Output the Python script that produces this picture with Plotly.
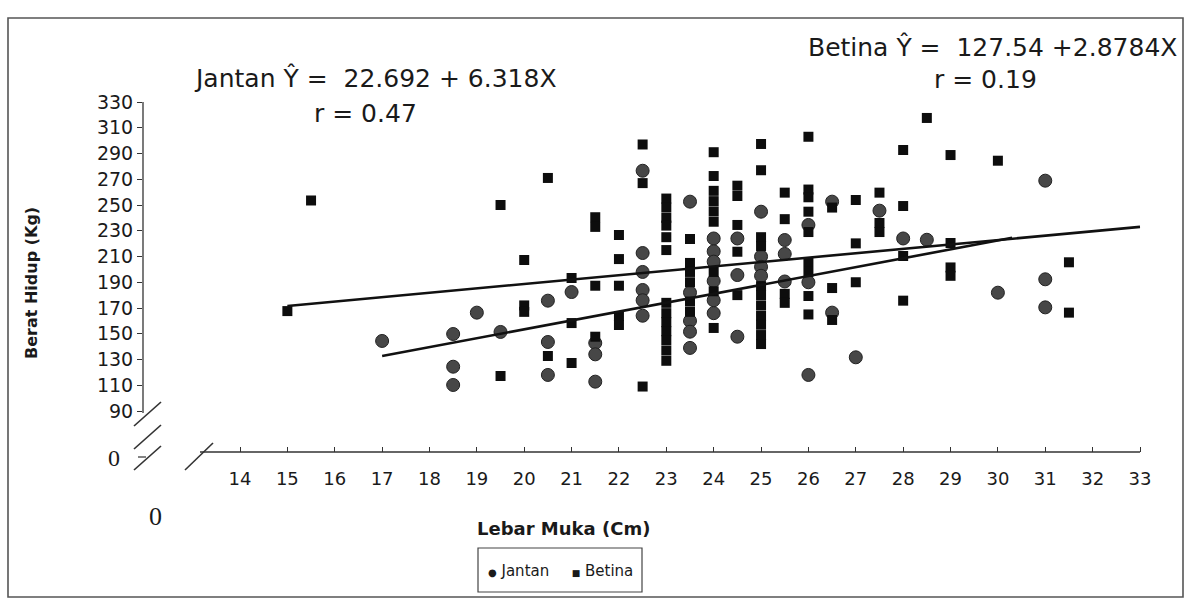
import plotly.graph_objects as go

W, H = 1191, 611
L, R, T, B = 143, 1155, 100, 452

# ---------------- data ----------------
jantan_x = [17, 18.5, 18.5, 18.5, 19, 19.5, 20.5, 20.5, 20.5, 21,
            21.5, 21.5, 21.5,
            22.5, 22.5, 22.5, 22.5, 22.5, 22.5,
            23.5, 23.5, 23.5, 23.5, 23.5,
            24, 24, 24, 24, 24, 24,
            24.5, 24.5, 24.5,
            25, 25, 25, 25,
            25.5, 25.5, 25.5,
            26, 26, 26,
            26.5, 26.5, 27, 27.5, 28, 28.5, 30, 31, 31, 31]
jantan_y = [144.4, 149.8, 124.4, 110.2, 166.4, 151.4, 175.7, 143.6, 118, 182.4,
            142.8, 134, 112.8,
            276.6, 212.7, 198, 184, 176, 164,
            252.6, 182, 160, 151.6, 139,
            224, 214, 206, 191, 176, 166,
            224, 195.6, 147.7,
            244.8, 210, 202, 195,
            222.8, 212, 190.6,
            234.5, 190, 118,
            252.6, 166.4, 131.7, 245.6, 224, 223, 181.9, 268.9, 192.3, 170.5]

betina_x = [15, 15.5, 19.5, 19.5, 20, 20, 20, 20.5, 20.5, 21, 21, 21,
            21.5, 21.5, 21.5, 21.5,
            22, 22, 22, 22, 22,
            22.5, 22.5, 22.5,
            23, 23, 23, 23, 23, 23, 23, 23, 23, 23, 23, 23, 23,
            23.5, 23.5, 23.5, 23.5, 23.5, 23.5,
            24, 24, 24, 24, 24, 24, 24, 24, 24,
            24.5, 24.5, 24.5, 24.5, 24.5,
            25, 25, 25, 25, 25, 25, 25, 25, 25, 25, 25,
            25.5, 25.5, 25.5, 25.5,
            26, 26, 26, 26, 26, 26, 26, 26, 26,
            26.5, 26.5, 26.5,
            27, 27, 27,
            27.5, 27.5, 27.5,
            28, 28, 28, 28,
            28.5,
            29, 29, 29, 29,
            30, 31.5, 31.5]
betina_y = [167.6, 253.5, 250, 117.2, 207.3, 172, 167, 271, 132.7, 193.3, 158.3, 127.3,
            240.5, 233, 187.3, 147.7,
            226.7, 208, 187.3, 163.8, 156.8,
            297, 267, 109,
            255, 248, 240, 234, 225, 215, 174, 166, 159, 152, 145, 137, 129,
            223.6, 205, 198, 190, 175, 167,
            291, 272.5, 261, 253, 245, 237, 198, 183, 154.5,
            265, 257, 234.5, 213.7, 180,
            297.4, 277, 225, 218, 187, 180, 172, 164, 157, 149, 142,
            259.6, 239, 181, 174,
            303, 262, 256, 244.8, 229, 205.7, 198, 179.3, 165,
            248, 185.5, 160.7,
            253.9, 220.2, 190,
            259.6, 236, 229,
            292.7, 249.2, 210.4, 175.7,
            317.6,
            288.8, 220.5, 201.5, 195,
            284.4, 205.5, 166.4]

# trend lines
jantan_fit_x = [17, 30.3]
jantan_fit_y = [132.7, 224.5]
betina_fit_x = [15, 33]
betina_fit_y = [171.6, 233.0]

x_ticks = list(range(14, 34))
y_ticks = list(range(90, 331, 20))

series_names = ["Jantan", "Betina"]
eq_jantan = "Jantan Ŷ =\u00a0 22.692 + 6.318X"
r_jantan = "r = 0.47"
eq_betina = "Betina Ŷ =\u00a0 127.54 +2.8784X"
r_betina = "r = 0.19"
x_title = "Lebar Muka (Cm)"
y_title = "Berat Hidup (Kg)"

# ---------------- helpers ----------------
def PX(x):
    return (x - L) / (R - L)

def PY(y):
    return (B - y) / (B - T)

xpx = (1140 - 240) / 19.0
x_range = [14 - (240 - L) / xpx, 33 + (R - 1140) / xpx]
ypx = (411 - 102) / 240.0
y_range = [90 - (B - 411) / ypx, 90 + (411 - T) / ypx]

SANS = "DejaVu Sans, Arial, sans-serif"
SERIF = "Liberation Serif, Times New Roman, serif"

fig = go.Figure()

fig.add_trace(go.Scatter(x=jantan_x, y=jantan_y, mode="markers", name=series_names[0],
                         showlegend=False,
                         marker=dict(symbol="circle", size=13, color="#474747",
                                     line=dict(color="#222222", width=1))))
fig.add_trace(go.Scatter(x=betina_x, y=betina_y, mode="markers", name=series_names[1],
                         showlegend=False,
                         marker=dict(symbol="square", size=10, color="#0d0d0d",
                                     line=dict(width=0))))
fig.add_trace(go.Scatter(x=jantan_fit_x, y=jantan_fit_y, mode="lines",
                         showlegend=False, line=dict(color="#111111", width=2.6)))
fig.add_trace(go.Scatter(x=betina_fit_x, y=betina_fit_y, mode="lines",
                         showlegend=False, line=dict(color="#111111", width=2.6)))

shapes = []
def seg(x0, y0, x1, y1, w=1.5, c="#333333"):
    shapes.append(dict(type="line", xref="paper", yref="paper",
                       x0=PX(x0), y0=PY(y0), x1=PX(x1), y1=PY(y1),
                       line=dict(color=c, width=w)))

# outer frame
shapes.append(dict(type="rect", xref="paper", yref="paper",
                   x0=PX(8), y0=PY(597), x1=PX(1183), y1=PY(18),
                   line=dict(color="#555555", width=1.6)))
# y axis line (90..330)
seg(L, 102, L, 413, 1.3)
seg(L - 5, 457, L + 3, 457, 1.2)
# y break marks
seg(134, 426, 161, 402, 1.6)
seg(134, 449, 161, 425, 1.6)
seg(134, 470, 161, 446, 1.6)
# x axis line
seg(200, B, 1140, B, 1.3)
# x break mark
seg(185, 470, 213, 443, 1.6)
# legend box
LEG_X0, LEG_X1 = 478, 642
shapes.append(dict(type="rect", xref="paper", yref="paper",
                   x0=PX(LEG_X0), y0=PY(592), x1=PX(LEG_X1), y1=PY(548),
                   line=dict(color="#444444", width=1.2)))

def ann(text, x, y, size, bold=False, font=SANS, angle=0):
    return dict(text=("<b>%s</b>" % text) if bold else text,
                xref="paper", yref="paper", x=PX(x), y=PY(y),
                xanchor="center", yanchor="middle", showarrow=False,
                textangle=angle, font=dict(family=font, size=size, color="#1a1a1a"))

legend_text = ("<span style='font-size:10px'>●</span> %s\u2003\u2002"
               "<span style='font-size:9px'>■</span> %s" % (series_names[0], series_names[1]))

annotations = [
    ann(eq_jantan, 375, 78, 25),
    ann(r_jantan, 365, 113, 25),
    ann(eq_betina, 992, 47, 25),
    ann(r_betina, 985, 80, 25),
    ann(x_title, 563, 528, 18, bold=True),
    ann(y_title, 31, 283, 16, bold=True, angle=-90),
    ann("0", 114, 458, 24, font=SERIF),
    ann("0", 155, 516, 26, font=SERIF),
    ann(legend_text, (LEG_X0 + LEG_X1) / 2, 571, 15),
]

fig.update_layout(
    width=W, height=H,
    margin=dict(l=L, r=W - R, t=T, b=H - B, pad=0),
    paper_bgcolor="white", plot_bgcolor="white",
    shapes=shapes, annotations=annotations,
    showlegend=False,
    xaxis=dict(range=x_range, tickmode="array", tickvals=x_ticks,
               ticktext=[str(v) for v in x_ticks], ticks="inside", ticklen=5,
               tickcolor="#333333", showline=False, showgrid=False, zeroline=False,
               ticklabelstandoff=14,
               tickfont=dict(family=SANS, size=18, color="#1a1a1a")),
    yaxis=dict(range=y_range, tickmode="array", tickvals=y_ticks,
               ticktext=[str(v) for v in y_ticks], ticks="outside", ticklen=5,
               tickcolor="#333333", showline=False, showgrid=False, zeroline=False,
               tickfont=dict(family=SANS, size=19, color="#1a1a1a")),
)

fig.write_html("out.html")
